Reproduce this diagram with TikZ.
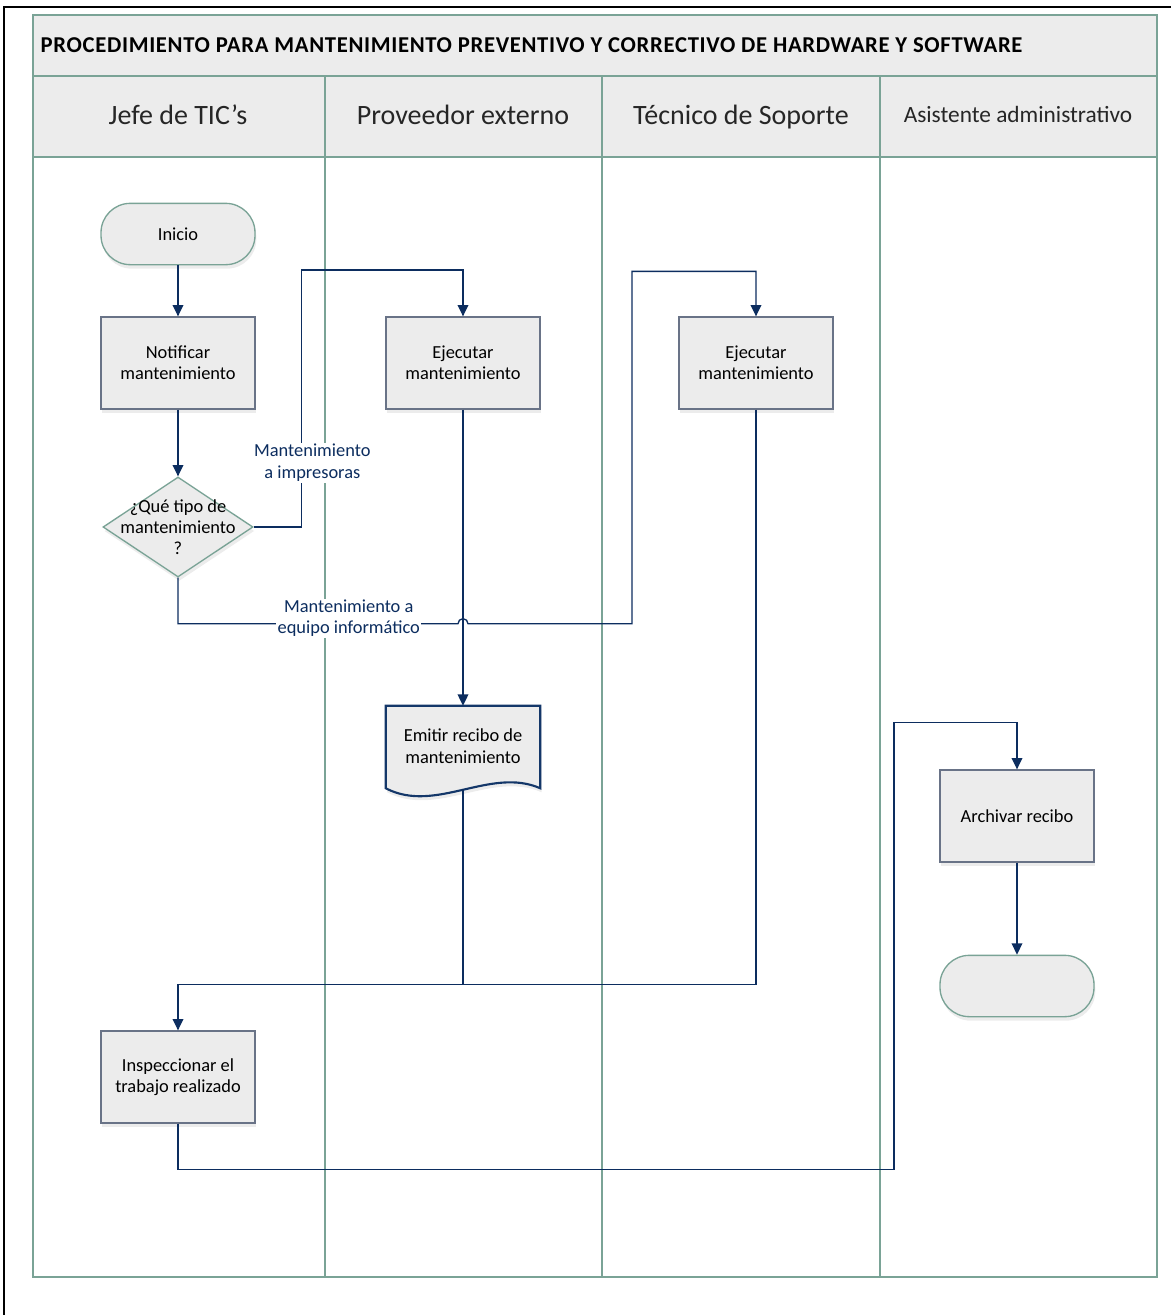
\documentclass[tikz,border=0pt]{standalone}
\usepackage{fontspec}
\setmainfont{Carlito}
\usepackage{xcolor}
\usetikzlibrary{shapes.geometric, arrows.meta, positioning, calc, shadows, backgrounds}
\definecolor{lanegreen}{RGB}{122,163,150}
\definecolor{boxgrey}{RGB}{236,236,236}
\definecolor{boxedge}{RGB}{105,115,135}
\definecolor{flownavy}{RGB}{12,45,95}
\definecolor{docnavy}{RGB}{20,55,105}

\begin{document}
\begin{tikzpicture}[x=0.75pt, y=-0.75pt,
    lane/.style={draw=lanegreen, line width=1.1pt},
    header/.style={text=black!85, anchor=base, font=\fontsize{21}{25}\selectfont},
    process/.style={rectangle, draw=boxedge, line width=1pt, fill=boxgrey, minimum width=115.5pt,
                    minimum height=69pt, align=center, font=\fontsize{13.8}{16}\selectfont,
                    drop shadow={shadow xshift=1pt, shadow yshift=-3pt, opacity=0.15}},
    terminal/.style={rectangle, rounded corners=22pt, draw=lanegreen, line width=1pt, fill=boxgrey,
                     minimum width=115.5pt, minimum height=46pt, font=\fontsize{13.8}{16}\selectfont,
                     drop shadow={shadow xshift=1pt, shadow yshift=-3pt, opacity=0.15}},
    decision/.style={diamond, draw=lanegreen, line width=1pt, fill=boxgrey, inner sep=0pt,
                     minimum width=112.5pt, minimum height=75pt,
                     drop shadow={shadow xshift=1pt, shadow yshift=-3pt, opacity=0.15}},
    docbox/.style={rectangle, minimum width=115.5pt, minimum height=60pt, align=center,
                   font=\fontsize{13.8}{16}\selectfont},
    flow/.style={draw=flownavy, line width=1pt, -{Triangle[length=8.5pt, width=8pt]}},
    link/.style={draw=flownavy, line width=1pt},
    flowlabel/.style={fill=white, text=flownavy, align=center, inner sep=1pt,
                      font=\fontsize{13.8}{16}\selectfont}
]
    \useasboundingbox (0,0) rectangle (1171,1315);
    \draw[black, line width=1.5pt] (4,1315) -- (4,7) -- (1171,7);

    % swimlanes
    \fill[boxgrey] (33,15) rectangle (1157,157);
    \draw[lane] (33,15) rectangle (1157,1277);
    \draw[lane] (33,76) -- (1157,76);
    \draw[lane] (33,157) -- (1157,157);
    \foreach \x in {325,602,880}
        \draw[lane] (\x,76) -- (\x,1277);

    \node[anchor=west, font=\bfseries\fontsize{17}{20}\selectfont\addfontfeature{LetterSpace=3}] (title) at (36,45)
        {PROCEDIMIENTO PARA MANTENIMIENTO PREVENTIVO Y CORRECTIVO DE HARDWARE Y SOFTWARE};
    \node[header] (hjefe) at (178,124) {Jefe de TIC’s};
    \node[header] (hprov) at (463,124) {Proveedor externo};
    \node[header] (htec) at (741,124) {Técnico de Soporte};
    \node[header, font=\fontsize{17.5}{21}\selectfont] (hasist) at (1018,122) {Asistente administrativo};

    % steps
    \node[terminal] (inicio) at (178,234) {Inicio};
    \node[process] (notificar) at (178,363) {Notificar\\mantenimiento};
    \node[decision, label={[align=center, font=\fontsize{13.8}{16}\selectfont]center:{¿Qué tipo de\\mantenimiento\\?}}]
        (decision) at (178,527) {};
    \node[process] (ejecprov) at (463,363) {Ejecutar\\mantenimiento};
    \node[process] (ejectec) at (756,363) {Ejecutar\\mantenimiento};
    \node[docbox] (emitir) at (463,746) {Emitir recibo de\\mantenimiento};
    \node[process] (inspeccion) at (178,1077) {Inspeccionar el\\trabajo realizado};
    \node[process] (archivar) at (1017,816) {Archivar recibo};
    \node[terminal] (fin) at (1017,986) {};

    \begin{pgfonlayer}{background}
        \draw[draw=docnavy, line width=1.6pt, fill=boxgrey,
              drop shadow={shadow xshift=1pt, shadow yshift=-3pt, opacity=0.15}]
            (emitir.north west) -- (emitir.north east) -- ($(emitir.south east)+(0,2)$)
            .. controls ($(emitir.south east)+(-50,-20)$) and ($(emitir.south west)+(50,28)$) ..
            ($(emitir.south west)+(0,2)$) -- cycle;
    \end{pgfonlayer}

    \coordinate (lowturn) at ($(decision.south)+(0,46)$);
    \coordinate (hop) at (ejecprov.south |- lowturn);
    \coordinate (tecturn) at ($(ejectec.north)+(-124,-45)$);
    \coordinate (merge) at ($(inspeccion.north)+(0,-46)$);
    \coordinate (archturn) at ($(archivar.north)+(-123,-47)$);

    % connectors
    \draw[flow] (inicio) -- (notificar);
    \draw[flow] (notificar) -- (decision);
    \draw[flow] (decision.east) -- ++(48,0) -- ++(0,-257)
        node[flowlabel, pos=0.25, xshift=8pt] {Mantenimiento\\a impresoras}
        -| (ejecprov.north);
    \draw[flow] (ejecprov.south) -- (emitir.north);
    \draw[flow] (decision.south) -- (lowturn)
        -- ($(hop)+(-5,0)$) node[flowlabel, pos=0.61, yshift=4pt] {Mantenimiento a\\equipo informático}
        arc[start angle=180, end angle=360, radius=5]
        -- (tecturn |- lowturn) -- (tecturn) -| (ejectec.north);
    \draw[link] ($(emitir.south)+(0,3)$) |- (merge);
    \draw[link] (ejectec.south) |- (merge);
    \draw[flow] (merge) -- (inspeccion.north);
    \draw[flow] (inspeccion.south) -- ++(0,46) -| (archturn) -| (archivar.north);
    \draw[flow] (archivar) -- (fin);
\end{tikzpicture}
\end{document}
